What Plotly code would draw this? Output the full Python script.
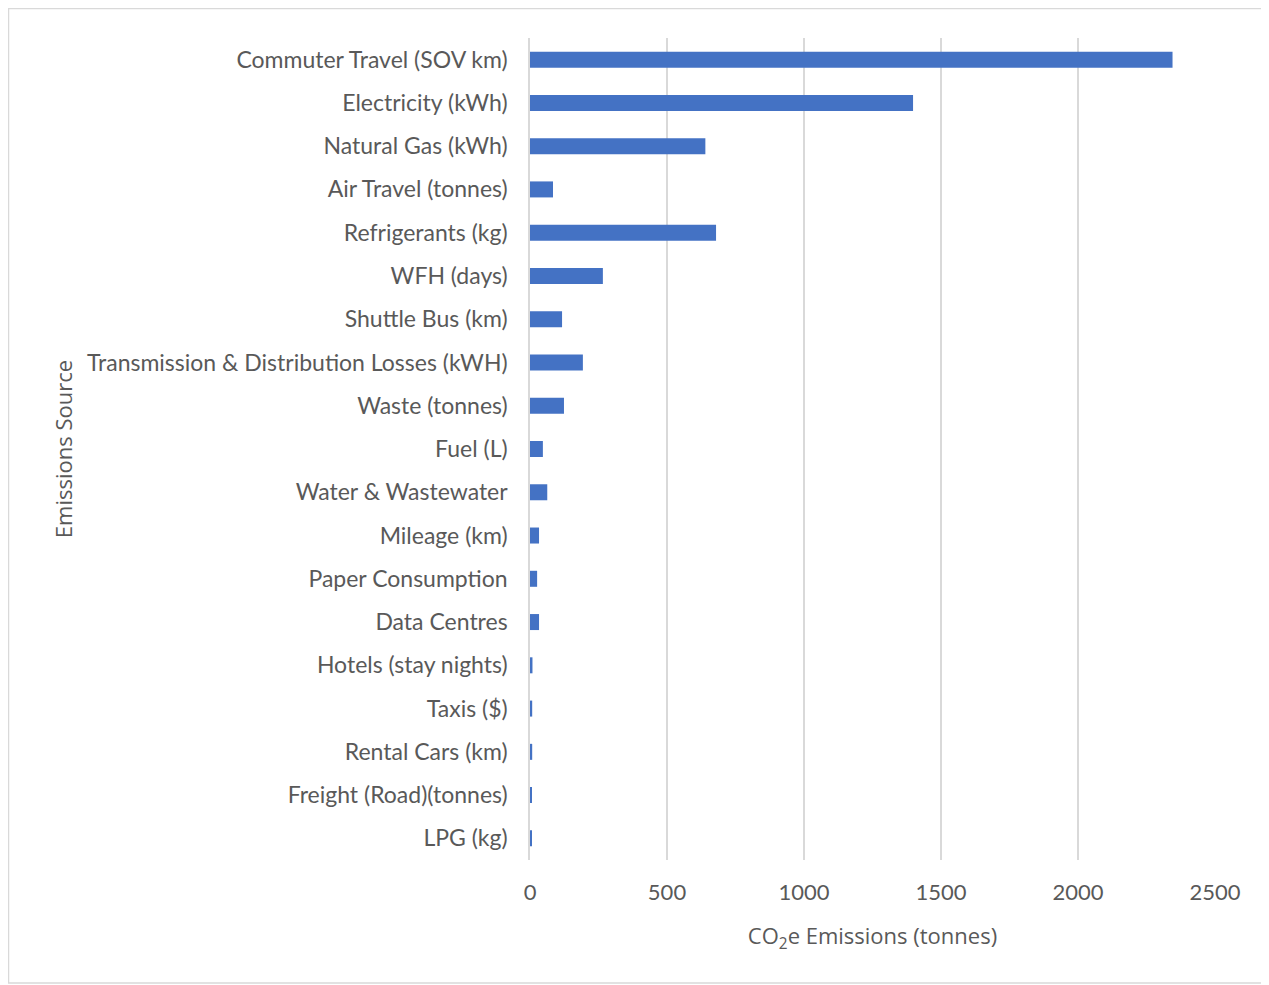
import plotly.graph_objects as go

categories = [
    "Commuter Travel (SOV km)", "Electricity (kWh)", "Natural Gas (kWh)",
    "Air Travel (tonnes)", "Refrigerants (kg)", "WFH (days)", "Shuttle Bus (km)",
    "Transmission & Distribution Losses (kWH)", "Waste (tonnes)", "Fuel (L)",
    "Water & Wastewater", "Mileage (km)", "Paper Consumption", "Data Centres",
    "Hotels (stay nights)", "Taxis ($)", "Rental Cars (km)", "Freight (Road)(tonnes)",
    "LPG (kg)",
]
emissions = [2345, 1398, 640, 84, 679, 266, 117, 193, 124, 47,
             63, 33, 26, 33, 9, 8, 8, 7, 7]
x_ticks = [0, 500, 1000, 1500, 2000, 2500]

W, H = 1261, 977
L, R, T, B = 522, 54, 30, 125
pw, ph = W - L - R, H - T - B

grey = "#595959"

fig = go.Figure(go.Bar(
    x=emissions, y=categories, orientation="h",
    marker=dict(color="#4472C4", line=dict(width=0)),
))

fig.update_layout(
    width=W, height=H,
    margin=dict(l=L, r=R, t=T, b=B),
    paper_bgcolor="white", plot_bgcolor="white",
    font=dict(family="Lato, Open Sans, sans-serif", size=23, color=grey),
    bargap=0.63,
    showlegend=False,
    xaxis=dict(
        range=[0, 2500], tickvals=x_ticks, ticktext=[str(v) for v in x_ticks],
        tickfont=dict(size=22),
        showgrid=True, gridcolor="#d9d9d9", gridwidth=1.5,
        zeroline=False, showline=False, ticks="",
        ticklabelstandoff=17,
        title=dict(text="CO<sub>2</sub>e Emissions (tonnes)", standoff=24,
                   font=dict(family="Open Sans, sans-serif", size=22, color=grey)),
    ),
    yaxis=dict(
        autorange="reversed", showgrid=False, zeroline=False,
        showline=True, linecolor="#d9d9d9", linewidth=1.5, ticks="",
        ticklabelstandoff=16,
        title=dict(text="Emissions Source", standoff=8,
                   font=dict(family="Open Sans, sans-serif", size=22, color=grey)),
    ),
)

fig.add_shape(
    type="rect", xref="paper", yref="paper",
    x0=(0.5 - L) / pw, x1=(1259 - L) / pw,
    y0=1 - (975 - T) / ph, y1=1 - (0.5 - T) / ph,
    line=dict(color="#d9d9d9", width=1.5), fillcolor="rgba(0,0,0,0)",
    layer="below",
)

fig.write_html("out.html")
